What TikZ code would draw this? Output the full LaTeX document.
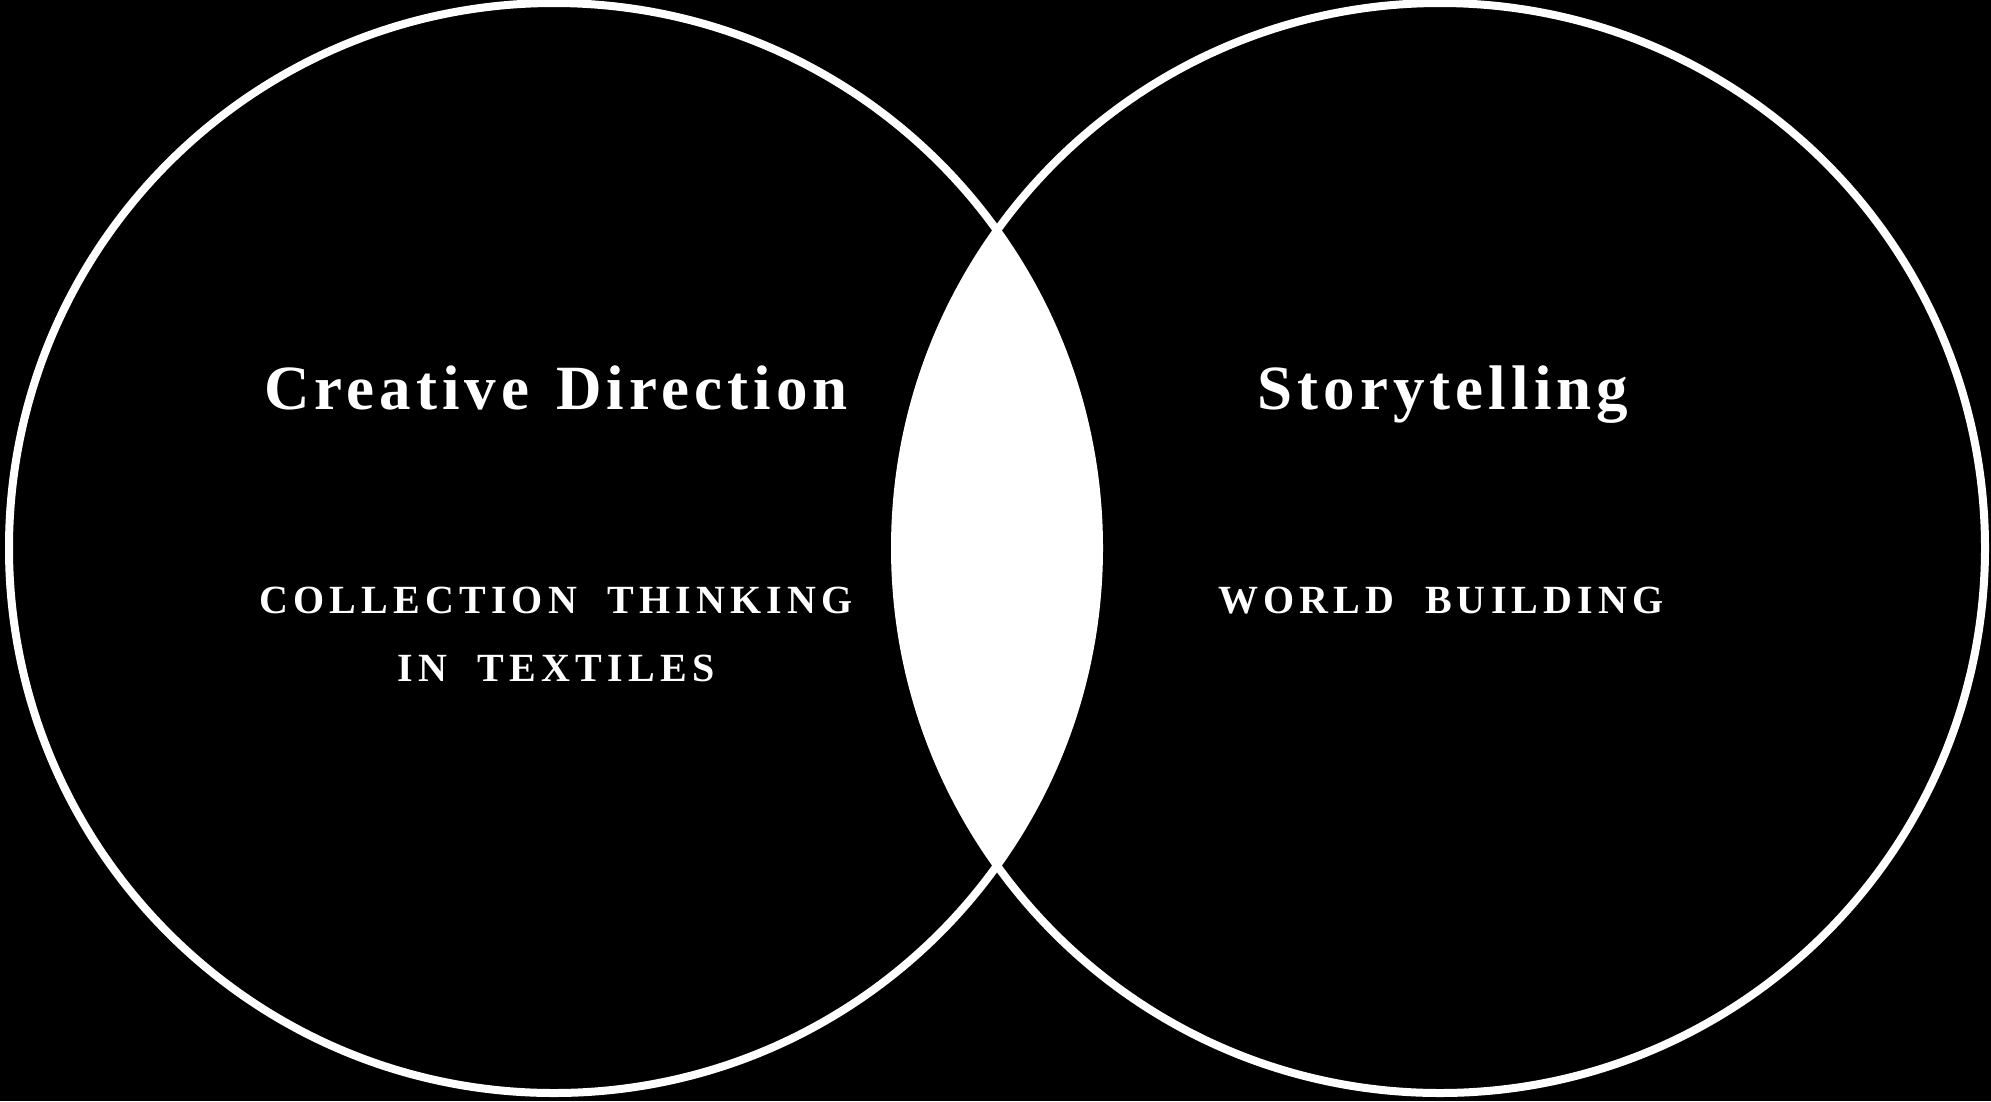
\documentclass[tikz,border=0pt]{standalone}
\usepackage{fontspec}
\newfontfamily\headfont[LetterSpace=8,WordSpace=1.3]{Liberation Serif}
\newfontfamily\capsfont[LetterSpace=13,WordSpace=2.0]{Liberation Serif}
\begin{document}
\begin{tikzpicture}[x=1pt,y=-1pt,
  ring/.style={draw=white,line width=8pt},
  headline/.style={text=white,anchor=base,inner sep=0pt,font=\headfont\bfseries\fontsize{63}{63}\selectfont},
  capsline/.style={text=white,anchor=base,inner sep=0pt,font=\capsfont\bfseries\fontsize{40}{40}\selectfont}]
  % canvas
  \fill[black] (0,0) rectangle (1991,1101);
  \useasboundingbox (0,0) rectangle (1991,1101);
  % overlap of the two circles
  \begin{scope}
    \clip (554,548) circle (545);
    \fill[white] (1440,548) circle (545);
  \end{scope}
  % circles
  \draw[ring] (554,548) circle (545);
  \draw[ring] (1440,548) circle (545);
  % labels
  \node[headline] (cd) at (556,409) {Creative Direction};
  \node[capsline] (ct1) at (556,613) {COLLECTION THINKING};
  \node[capsline] (ct2) at (556,681) {IN TEXTILES};
  \node[headline] (st) at (1443,409) {Storytelling};
  \node[capsline] (wb) at (1441,613) {WORLD BUILDING};
\end{tikzpicture}
\end{document}
